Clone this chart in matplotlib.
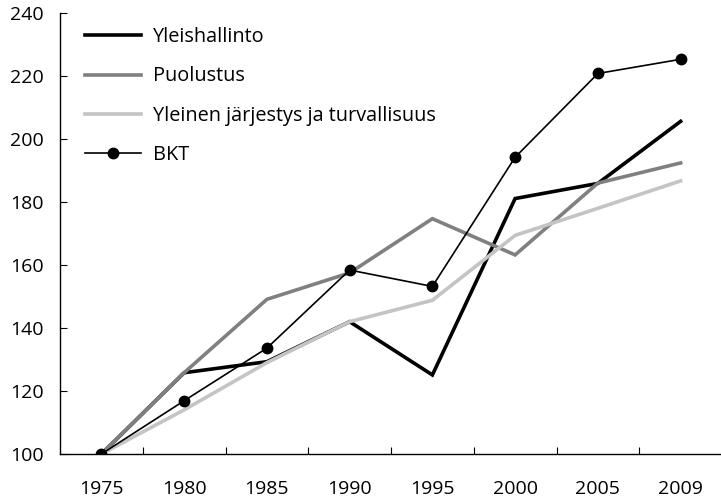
import matplotlib
matplotlib.use("Agg")
import matplotlib.pyplot as plt
import numpy as np

years = ["1975", "1980", "1985", "1990", "1995", "2000", "2005", "2009"]
yleishallinto = [100, 125.8, 129.3, 142.0, 125.1, 181.1, 185.9, 205.6]
puolustus = [100, 125.8, 149.1, 157.5, 174.7, 163.2, 186.0, 192.4]
jarjestys = [100, 114.0, 129.0, 142.0, 148.8, 169.4, 178.0, 186.7]
bkt = [100, 116.9, 133.6, 158.4, 153.2, 194.2, 220.8, 225.3]
yticks = [100, 120, 140, 160, 180, 200, 220, 240]

plt.rcParams['font.family'] = ['Open Sans', 'DejaVu Sans']

fig = plt.figure(figsize=(7.21, 4.99), dpi=100)
ax = fig.add_axes([60/721, 1 - 454/499, 662/721, 441/499])
x = np.arange(len(years))

ax.plot(x, yleishallinto, color='black', lw=2.6, label='Yleishallinto', solid_joinstyle='miter')
ax.plot(x, puolustus, color='#808080', lw=2.6, label='Puolustus', solid_joinstyle='miter')
ax.plot(x, jarjestys, color='#c4c4c4', lw=2.6, label='Yleinen järjestys ja turvallisuus', solid_joinstyle='miter')
ax.plot(x, bkt, color='black', lw=1.2, marker='o', markersize=7.5, label='BKT')

ax.set_xlim(-0.5, 7.5)
ax.set_ylim(100, 240)
ax.set_yticks(yticks)
ax.set_xticks(x)
ax.set_xticklabels(years)
ax.set_xticks(np.arange(0.5, 7.5, 1.0), minor=True)
ax.tick_params(axis='x', which='major', length=0, pad=19, labelsize=14)
ax.tick_params(axis='x', which='minor', direction='in', length=5, width=0.8)
ax.tick_params(axis='y', direction='in', length=5, width=0.8, pad=12, labelsize=14)

for s in ['top', 'right']:
    ax.spines[s].set_visible(False)
for s in ['left', 'bottom']:
    ax.spines[s].set_linewidth(1.0)

leg = ax.legend(loc='upper left', bbox_to_anchor=(25/662, (454-27)/441), frameon=False,
                fontsize=14.3, handlelength=2.8, handletextpad=0.6, labelspacing=0.98,
                borderpad=0, borderaxespad=0)

fig.savefig('out.png', dpi=100)
